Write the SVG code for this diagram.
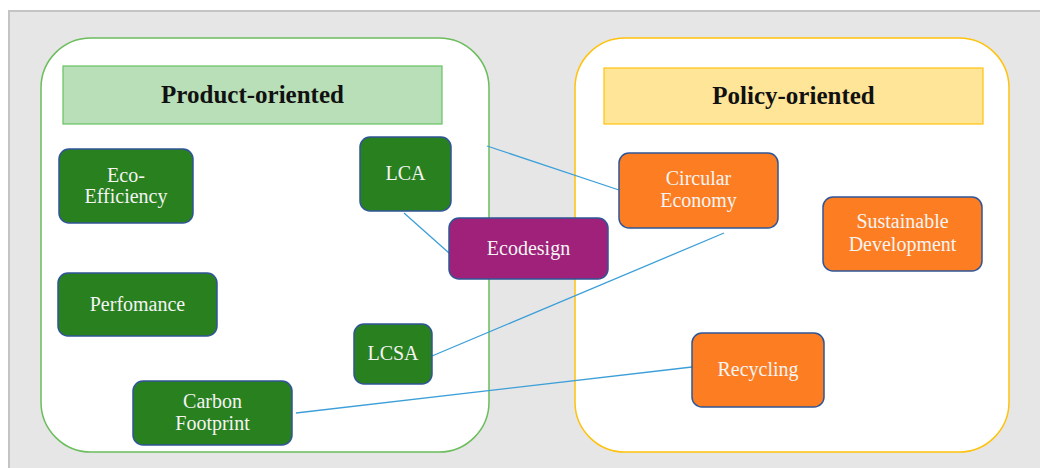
<svg xmlns="http://www.w3.org/2000/svg" width="1040" height="468" viewBox="0 0 1040 468">
<style>
.bg{fill:#e6e6e6;stroke:#c4c4c4;stroke-width:2}
.cont{fill:#ffffff;stroke-width:1.5}
.hdr{font-family:"Liberation Serif",serif;font-weight:bold;font-size:25px;fill:#111;text-anchor:middle}
.node{stroke:#2f5597;stroke-width:1.5}
.g{fill:#29801f}
.o{fill:#fd7e22}
.p{fill:#9f217a}
.t{font-family:"Liberation Serif",serif;font-size:20px;fill:#f4f4f4;text-anchor:middle}
.conn{stroke:#3c9fd8;stroke-width:1.3;fill:none}
</style>
<rect x="0" y="0" width="1040" height="468" fill="#ffffff"/>
<rect class="bg" x="9" y="11" width="1040" height="470"/>
<g id="product-container">
<rect class="cont" x="41" y="38" width="448" height="414" rx="50" ry="50" stroke="#6cbd5c"/>
<rect x="63" y="66" width="379" height="58" fill="#b8dfb8" stroke="#67c25f" stroke-width="1.2"/>
<text class="hdr" x="252.5" y="103">Product-oriented</text>
</g>
<g id="policy-container">
<rect class="cont" x="575" y="38" width="434" height="414" rx="50" ry="50" stroke="#ffc20e"/>
<rect x="604" y="68" width="379" height="56" fill="#ffe597" stroke="#ffc20e" stroke-width="1.2"/>
<text class="hdr" x="793.5" y="104">Policy-oriented</text>
</g>
<g id="connectors">
<line class="conn" x1="487" y1="146" x2="619" y2="190"/>
<line class="conn" x1="404" y1="213" x2="449" y2="253"/>
<line class="conn" x1="432" y1="356" x2="724" y2="233"/>
<line class="conn" x1="296" y1="413" x2="692" y2="367"/>
</g>
<g id="eco-efficiency">
<rect class="node g" x="59" y="149" width="134" height="74" rx="10"/>
<text class="t" x="126" y="182">Eco-</text>
<text class="t" x="126" y="203">Efficiency</text>
</g>
<g id="lca">
<rect class="node g" x="360" y="137" width="91" height="74" rx="10"/>
<text class="t" x="405.5" y="180">LCA</text>
</g>
<g id="perfomance">
<rect class="node g" x="58" y="273" width="159" height="63" rx="10"/>
<text class="t" x="137.5" y="311">Perfomance</text>
</g>
<g id="lcsa">
<rect class="node g" x="354" y="324" width="78" height="60" rx="10"/>
<text class="t" x="393" y="360">LCSA</text>
</g>
<g id="carbon-footprint">
<rect class="node g" x="133" y="381" width="159" height="64" rx="10"/>
<text class="t" x="212.5" y="408">Carbon</text>
<text class="t" x="212.5" y="430">Footprint</text>
</g>
<g id="ecodesign">
<rect class="node p" x="449" y="218" width="159" height="61" rx="10"/>
<text class="t" x="528.5" y="255">Ecodesign</text>
</g>
<g id="circular-economy">
<rect class="node o" x="619" y="153" width="159" height="75" rx="10"/>
<text class="t" x="698.5" y="185">Circular</text>
<text class="t" x="698.5" y="207">Economy</text>
</g>
<g id="sustainable-development">
<rect class="node o" x="823" y="197" width="159" height="74" rx="10"/>
<text class="t" x="902.5" y="228">Sustainable</text>
<text class="t" x="902.5" y="251">Development</text>
</g>
<g id="recycling">
<rect class="node o" x="692" y="333" width="132" height="74" rx="10"/>
<text class="t" x="758" y="376">Recycling</text>
</g>
</svg>
